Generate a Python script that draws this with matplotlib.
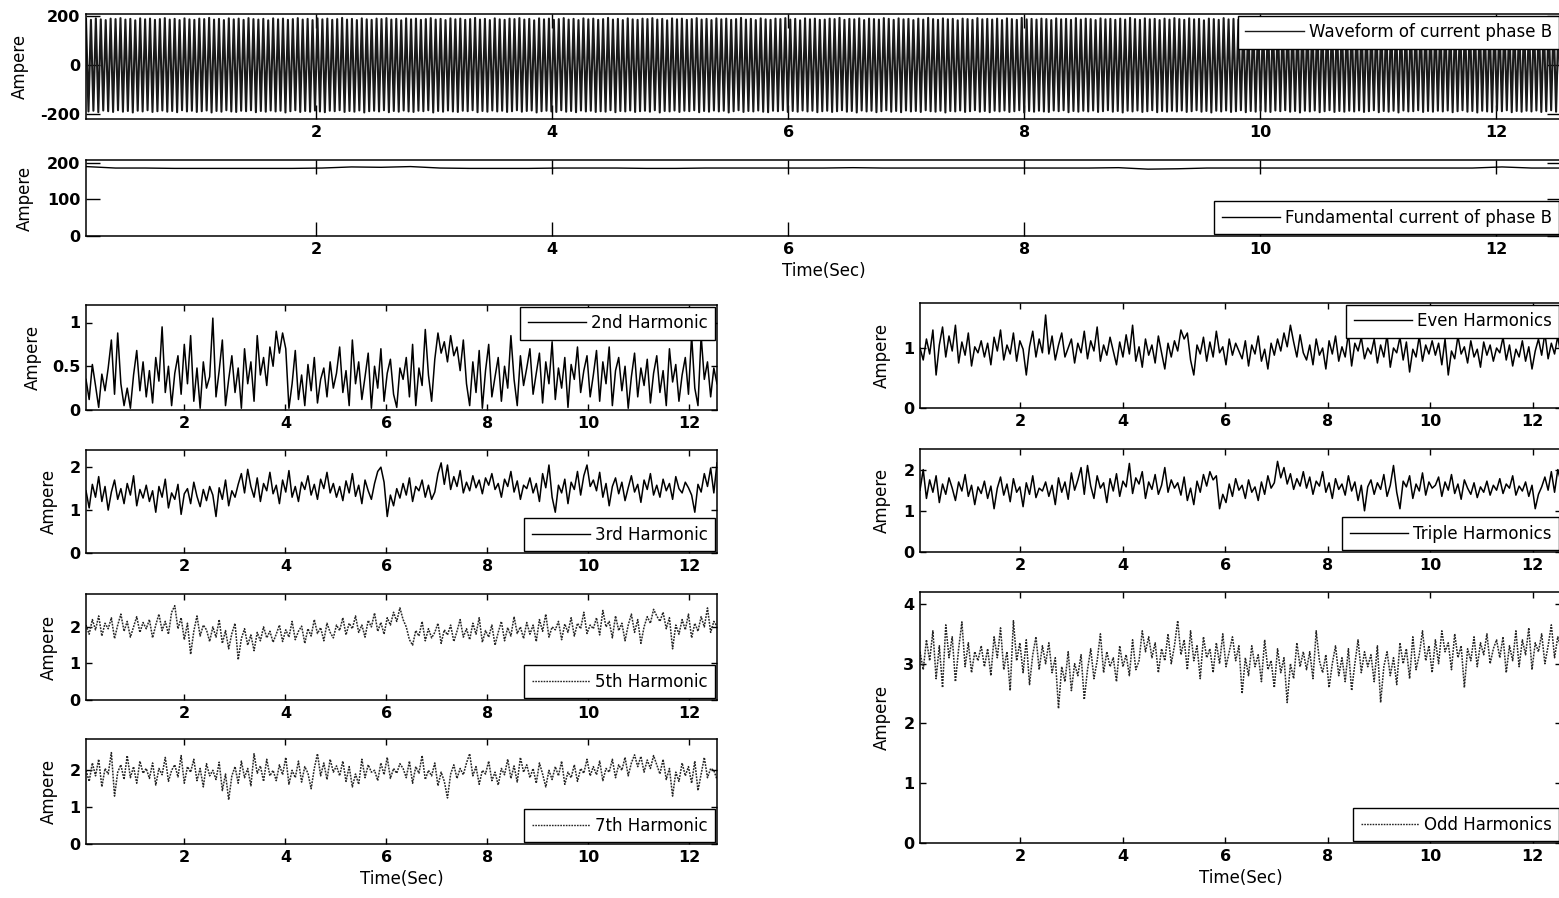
import numpy as np
import matplotlib
matplotlib.use("Agg")
import matplotlib.pyplot as plt
import matplotlib.transforms as mtransforms

plt.rcParams['font.family'] = ['DejaVu Sans']
plt.rcParams['axes.unicode_minus'] = False

# Data (Time in sec)
t_start, t_end = 0.05, 12.55
x_ticks = [2, 4, 6, 8, 10, 12]

# phase B current waveform: positive and negative peak per cycle (A)
wave_pos = [
    190, 186, 192, 188, 185, 191, 189, 193, 187, 190, 184, 192, 188, 191, 186,
    189, 193, 187, 190, 185, 192, 188, 186, 191, 189, 194, 187, 190, 185, 192,
    188, 191, 186, 193, 189, 187, 190, 184, 192, 188, 191, 186, 189, 193, 187,
    190, 185, 192, 188, 191, 186, 189, 194, 187, 190, 185, 192, 188, 186, 191,
    189, 193, 187, 190, 184, 192, 188, 191, 186, 189, 193, 187, 190, 185, 192,
    188, 191, 186, 189, 194, 187, 190, 185, 192, 188, 186, 191, 189, 193, 187,
    190, 184, 192, 188, 191, 186, 189, 193, 187, 190, 185, 192, 188, 191, 186,
    189, 194, 187, 190, 185, 192, 188, 186, 191, 189, 193, 187, 190, 184, 192,
    188, 191, 186, 189, 193, 187, 190, 185, 192, 188, 191, 186, 189, 194, 187,
    190, 185, 192, 188, 186, 191, 189, 193, 187, 190, 184, 192, 188, 191, 186,
    187, 191, 189, 194, 186, 190, 188, 192, 185, 191, 189, 187, 193, 190, 186,
    192, 188, 190, 185, 191, 187, 194, 189, 186, 192, 188, 190, 184, 191, 189,
    186, 193, 188, 190, 187, 191, 185, 192, 189, 186, 194, 188, 190, 187, 191,
    189, 185, 192, 188, 190, 186, 193, 187, 191, 189, 185, 192, 188, 190, 186,
    191, 187, 194, 189, 186, 192, 188, 190, 185, 191, 187, 193, 189, 186, 192,
    188, 190, 184, 191, 189, 186, 193, 188, 190, 187, 191, 185, 192, 189, 186,
    194, 188, 190, 187, 191, 189, 185, 192, 188, 190, 186, 193, 187, 191, 189,
    185, 192, 188, 190, 186, 191, 187, 194, 189, 186, 192, 188, 190, 185, 191,
    187, 193, 189, 186, 192, 188, 190, 184, 191, 189, 186, 193, 188, 190, 187,
    191, 185, 192, 189, 186, 194, 188, 190, 187, 191, 189, 185, 192, 188, 190,
]
wave_neg = [
    -191, -188, -194, -187, -190, -193, -186, -192, -189, -195, -188, -191, -186, -193, -190,
    -187, -192, -189, -194, -186, -191, -188, -193, -190, -187, -195, -189, -192, -186, -191,
    -193, -188, -190, -186, -194, -189, -192, -187, -191, -188, -195, -190, -186, -193, -189,
    -192, -187, -191, -194, -188, -190, -186, -193, -189, -192, -187, -195, -190, -188, -191,
    -186, -194, -189, -192, -187, -191, -193, -188, -190, -186, -195, -189, -192, -187, -191,
    -193, -188, -190, -186, -194, -189, -192, -187, -191, -188, -193, -190, -186, -192, -189,
    -187, -195, -190, -188, -191, -193, -186, -192, -189, -194, -187, -191, -188, -193, -190,
    -192, -186, -194, -189, -191, -187, -193, -190, -188, -192, -186, -195, -189, -191, -187,
    -193, -188, -190, -186, -194, -189, -192, -187, -191, -188, -195, -190, -186, -193, -189,
    -191, -187, -192, -194, -188, -190, -186, -193, -189, -192, -187, -191, -188, -194, -190,
    -188, -193, -190, -186, -192, -189, -195, -187, -191, -188, -194, -190, -186, -192, -189,
    -194, -187, -191, -189, -193, -186, -190, -192, -188, -195, -189, -191, -187, -193, -190,
    -186, -192, -189, -194, -188, -191, -187, -193, -190, -186, -195, -189, -192, -188, -191,
    -193, -187, -190, -186, -194, -189, -192, -188, -191, -187, -193, -190, -186, -192, -189,
    -195, -188, -191, -187, -193, -190, -186, -194, -189, -192, -188, -191, -187, -193, -190,
    -186, -192, -189, -195, -188, -191, -187, -193, -190, -186, -194, -189, -192, -188, -191,
    -193, -187, -190, -186, -192, -189, -195, -188, -191, -187, -194, -190, -186, -193, -189,
    -192, -188, -191, -187, -193, -190, -186, -194, -189, -192, -188, -195, -187, -191, -190,
    -186, -193, -189, -192, -188, -191, -187, -194, -190, -186, -192, -189, -195, -188, -191,
    -193, -187, -190, -186, -194, -189, -192, -188, -191, -187, -193, -190, -186, -192, -189,
]

# fundamental current of phase B (A), every 0.25 s
fund_amp = [
    190, 186, 186, 185, 185, 185, 185, 185, 186, 189,
    188, 190, 186, 185, 185, 185, 186, 186, 186, 185,
    185, 186, 186, 186, 186, 186, 187, 186, 186, 186,
    186, 186, 186, 186, 186, 187, 183, 184, 186, 186,
    186, 186, 186, 186, 186, 186, 186, 186, 189, 186, 186,
]

h2 = [
    0.35, 0.12, 0.52, 0.28, 0.03, 0.41, 0.22, 0.48, 0.80, 0.18, 0.88, 0.30, 0.05, 0.25, 0.02, 0.40, 0.68, 0.22, 0.55, 0.15,
    0.45, 0.08, 0.60, 0.33, 0.95, 0.20, 0.50, 0.05, 0.42, 0.62, 0.18, 0.75, 0.30, 0.85, 0.10, 0.48, 0.02, 0.55, 0.25, 0.38,
    1.05, 0.15, 0.45, 0.80, 0.05, 0.35, 0.62, 0.20, 0.48, 0.02, 0.70, 0.30, 0.55, 0.10, 0.85, 0.40, 0.60, 0.28, 0.72, 0.50,
    0.90, 0.65, 0.88, 0.70, 0.02, 0.30, 0.68, 0.12, 0.40, 0.05, 0.52, 0.22, 0.60, 0.08, 0.35, 0.48, 0.15, 0.55, 0.25, 0.42,
    0.72, 0.20, 0.45, 0.05, 0.80, 0.30, 0.55, 0.12, 0.38, 0.65, 0.02, 0.50, 0.25, 0.70, 0.10, 0.42, 0.58, 0.18, 0.03, 0.48,
    0.35, 0.60, 0.15, 0.75, 0.05, 0.48, 0.28, 0.92, 0.40, 0.10, 0.58, 0.88, 0.65, 0.78, 0.55, 0.85, 0.62, 0.72, 0.45, 0.80,
    0.30, 0.05, 0.55, 0.20, 0.68, 0.02, 0.45, 0.75, 0.15, 0.38, 0.60, 0.10, 0.50, 0.25, 0.85, 0.35, 0.05, 0.62, 0.28, 0.48,
    0.70, 0.18, 0.42, 0.65, 0.08, 0.55, 0.30, 0.78, 0.12, 0.48, 0.25, 0.60, 0.03, 0.52, 0.35, 0.72, 0.20, 0.45, 0.62, 0.15,
    0.40, 0.68, 0.10, 0.55, 0.30, 0.72, 0.05, 0.45, 0.60, 0.22, 0.50, 0.02, 0.38, 0.65, 0.15, 0.48, 0.28, 0.58, 0.08, 0.42,
    0.62, 0.20, 0.45, 0.05, 0.70, 0.32, 0.52, 0.10, 0.40, 0.60, 0.18, 0.85, 0.25, 0.05, 0.85, 0.35, 0.55, 0.15, 0.48, 0.30,
]
h3 = [
    1.45, 1.05, 1.60, 1.30, 1.78, 1.20, 1.55, 1.00, 1.42, 1.70, 1.25, 1.50, 1.15, 1.62, 1.35, 1.80, 1.10, 1.48, 1.28, 1.58,
    1.20, 1.45, 0.95, 1.55, 1.30, 1.72, 1.05, 1.40, 1.25, 1.60, 0.90, 1.38, 1.50, 1.15, 1.65, 1.32, 1.08, 1.48, 1.22, 1.55,
    1.35, 0.85, 1.52, 1.25, 1.70, 1.10, 1.45, 1.30, 1.60, 1.85, 1.40, 1.95, 1.55, 1.30, 1.75, 1.20, 1.62, 1.45, 1.88, 1.38,
    1.58, 1.15, 1.70, 1.42, 1.92, 1.30, 1.55, 1.20, 1.65, 1.48, 1.80, 1.35, 1.60, 1.25, 1.72, 1.50, 1.88, 1.40, 1.62, 1.30,
    1.55, 1.22, 1.68, 1.40, 1.85, 1.32, 1.58, 1.15, 1.70, 1.45, 1.25, 1.62, 1.90, 2.00, 1.65, 0.85, 1.35, 1.10, 1.50, 1.28,
    1.62, 1.35, 1.75, 1.20, 1.55, 1.45, 1.70, 1.30, 1.58, 1.25, 1.42, 1.85, 2.10, 1.60, 2.05, 1.48, 1.78, 1.55, 1.92, 1.40,
    1.65, 1.45, 1.80, 1.52, 1.70, 1.38, 1.75, 1.58, 1.85, 1.48, 1.62, 1.30, 1.72, 1.55, 1.90, 1.42, 1.68, 1.25, 1.58, 1.50,
    1.75, 1.40, 1.62, 1.20, 1.85, 1.52, 2.05, 1.30, 0.95, 1.58, 1.40, 1.72, 1.15, 1.65, 1.48, 1.90, 1.35, 1.80, 2.05, 1.55,
    1.70, 1.45, 1.88, 1.30, 1.62, 1.10, 1.55, 1.75, 1.38, 1.65, 1.22, 1.52, 1.80, 1.42, 1.60, 1.18, 1.70, 1.48, 1.85, 1.35,
    1.58, 1.30, 1.72, 1.45, 1.62, 1.25, 1.78, 1.50, 1.40, 1.65, 1.52, 1.35, 0.95, 1.60, 1.42, 1.85, 1.55, 1.98, 1.40, 2.10,
]
h5 = [
    2.05, 1.80, 2.20, 1.92, 2.30, 1.75, 2.10, 1.95, 2.25, 1.68, 2.05, 2.35, 1.88, 2.15, 1.72, 2.00, 2.28, 1.85, 2.12, 1.95,
    2.20, 1.70, 2.05, 2.35, 1.90, 2.15, 1.80, 2.40, 2.58, 1.95, 2.25, 1.65, 2.10, 1.25, 1.88, 2.30, 1.75, 2.05, 1.92, 1.60,
    2.00, 1.72, 2.20, 1.55, 1.90, 1.40, 1.82, 2.10, 1.10, 1.68, 1.95, 1.50, 1.78, 1.35, 1.85, 1.62, 2.00, 1.70, 1.88, 1.58,
    1.80, 2.05, 1.60, 1.92, 1.72, 2.15, 1.65, 1.88, 2.02, 1.55, 1.95, 1.75, 2.20, 1.82, 1.98, 1.62, 2.10, 1.85, 1.70, 2.05,
    1.90, 2.25, 1.78, 2.10, 1.95, 2.30, 1.85, 2.05, 1.72, 2.18, 2.00, 2.38, 1.88, 2.12, 1.80, 2.25, 2.05, 2.40, 2.15, 2.52,
    2.20, 2.00, 1.65, 1.50, 1.90, 1.75, 2.15, 1.62, 1.95, 1.70, 1.85, 2.10, 1.55, 1.92, 1.78, 2.05, 1.60, 1.88, 2.20, 1.72,
    1.95, 1.65, 2.10, 1.80, 2.25, 1.58, 1.90, 1.72, 2.05, 1.50, 1.85, 2.15, 1.62, 1.98, 1.75, 2.28, 1.82, 2.00, 1.68, 2.12,
    1.80, 2.05, 1.60, 2.20, 1.88, 2.35, 1.72, 2.00, 1.92, 2.15, 1.65, 2.08, 1.85, 2.25, 1.75, 2.10, 1.95, 2.40, 1.82, 2.05,
    1.95, 2.25, 1.78, 2.45, 2.00, 2.15, 1.70, 2.30, 1.90, 2.10, 1.62, 2.05, 2.35, 1.85, 2.20, 1.55, 2.00, 2.28, 2.10, 2.48,
    2.30, 2.15, 2.40, 1.95, 2.25, 1.40, 2.05, 1.80, 2.20, 1.92, 2.35, 1.70, 2.10, 1.88, 2.28, 2.00, 2.52, 1.85, 2.15, 2.02,
]
h7 = [
    2.00, 1.70, 2.20, 1.85, 2.30, 1.55, 2.05, 1.90, 2.48, 1.30, 1.95, 2.15, 1.75, 2.40, 1.80, 2.10, 1.65, 2.25, 1.92, 2.05,
    1.78, 2.20, 1.60, 2.05, 1.88, 2.35, 1.70, 2.00, 2.15, 1.82, 2.40, 1.65, 2.10, 1.95, 2.30, 1.72, 2.05, 1.55, 2.18, 1.85,
    2.00, 1.75, 2.22, 1.45, 1.90, 1.20, 1.85, 2.10, 1.65, 2.25, 1.80, 2.05, 1.58, 2.45, 1.92, 2.12, 1.70, 2.30, 1.85, 2.00,
    1.72, 2.15, 1.88, 2.35, 1.62, 2.00, 1.80, 2.25, 1.68, 2.10, 1.92, 1.50, 2.05, 2.45, 1.85, 2.20, 1.75, 2.30, 1.95, 2.12,
    1.85, 2.25, 1.70, 2.10, 1.55, 1.90, 1.62, 2.30, 1.80, 2.15, 1.95, 2.00, 1.72, 2.20, 1.88, 2.35, 1.78, 2.05, 1.92, 2.18,
    2.05, 1.80, 2.25, 1.65, 2.10, 1.92, 2.40, 1.75, 2.00, 1.85, 2.20, 1.58, 1.95, 1.70, 1.25, 1.90, 2.15, 1.78, 2.05, 1.88,
    2.20, 2.45, 1.85, 2.10, 1.62, 2.00, 1.90, 2.25, 1.72, 1.95, 1.60, 2.05, 1.88, 2.30, 1.78, 2.12, 1.68, 2.35, 1.95, 2.15,
    1.80, 2.05, 1.65, 2.20, 1.90, 1.55, 2.00, 1.75, 2.10, 1.85, 2.25, 1.62, 1.95, 1.80, 2.15, 1.70, 2.05, 1.92, 2.30, 1.85,
    2.10, 1.88, 2.25, 1.72, 2.05, 1.95, 2.30, 1.80, 2.15, 2.00, 2.35, 1.85, 2.20, 2.42, 2.10, 2.38, 1.95, 2.28, 2.05, 2.40,
    2.15, 1.90, 2.30, 1.75, 2.05, 1.30, 1.95, 1.70, 2.20, 1.85, 2.10, 1.65, 2.25, 1.45, 1.90, 2.35, 1.80, 2.05, 2.00, 1.75,
]
h_even = [
    1.00, 0.80, 1.15, 0.90, 1.30, 0.55, 1.05, 1.35, 0.85, 1.20, 0.95, 1.38, 0.75, 1.10, 0.88, 1.25, 0.70, 1.02, 0.92, 1.12,
    0.85, 1.08, 0.72, 1.18, 0.95, 1.30, 0.80, 1.05, 0.90, 1.25, 0.78, 1.12, 0.98, 0.55, 1.02, 1.28, 0.85, 1.15, 0.92, 1.55,
    0.90, 1.20, 0.80, 1.05, 1.25, 0.85, 1.00, 1.15, 0.75, 1.08, 0.92, 1.28, 0.82, 1.12, 0.95, 1.35, 0.78, 1.05, 0.88, 1.18,
    0.95, 0.72, 1.10, 0.85, 1.22, 0.90, 1.38, 0.78, 1.02, 0.68, 1.15, 0.88, 1.05, 0.75, 1.20, 0.92, 0.65, 1.08, 0.85, 1.12,
    0.95, 1.30, 1.15, 1.25, 0.80, 0.55, 1.05, 0.90, 1.18, 0.78, 1.10, 0.85, 1.28, 0.92, 1.02, 0.72, 1.15, 0.88, 1.08, 0.95,
    0.82, 1.12, 0.70, 1.05, 0.90, 1.20, 0.78, 0.98, 0.65, 1.08, 0.88, 1.15, 0.95, 1.25, 1.02, 1.38, 1.10, 0.85, 1.22, 0.92,
    0.80, 1.05, 0.72, 1.15, 0.88, 1.00, 0.65, 1.12, 0.90, 1.20, 0.78, 1.02, 0.85, 1.25, 0.70, 1.08, 0.95, 1.18, 0.82, 1.00,
    0.90, 1.15, 0.75, 1.05, 0.85, 1.22, 0.68, 1.00, 0.92, 1.18, 0.80, 1.10, 0.60, 0.98, 0.85, 1.20, 0.78, 1.05, 0.90, 1.12,
    0.88, 1.08, 0.72, 1.15, 0.55, 0.95, 0.82, 1.20, 0.90, 1.02, 0.75, 1.12, 0.85, 0.98, 0.68, 1.10, 0.88, 1.05, 0.78, 1.00,
    0.92, 1.18, 0.80, 1.05, 0.70, 0.98, 0.85, 1.12, 0.78, 1.02, 0.65, 0.95, 1.15, 0.88, 1.25, 0.82, 1.08, 0.90, 1.20, 0.85,
]
h_triple = [
    1.50, 2.00, 1.30, 1.75, 1.45, 1.85, 1.20, 1.65, 1.40, 1.80, 1.55, 1.25, 1.70, 1.48, 1.88, 1.35, 1.62, 1.15, 1.58, 1.42,
    1.72, 1.30, 1.60, 1.05, 1.55, 1.82, 1.38, 1.65, 1.22, 1.78, 1.45, 1.58, 1.10, 1.68, 1.40, 1.85, 1.32, 1.55, 1.48, 1.70,
    1.35, 1.62, 1.15, 1.80, 1.45, 1.70, 1.28, 1.92, 1.50, 1.75, 2.05, 1.40, 2.10, 1.60, 1.30, 1.85, 1.55, 1.68, 1.20, 1.78,
    1.48, 1.90, 1.35, 1.72, 1.58, 2.15, 1.42, 1.80, 1.65, 1.95, 1.30, 1.70, 1.52, 1.88, 1.40, 1.62, 2.05, 1.45, 1.75, 1.55,
    1.68, 1.38, 1.82, 1.25, 1.55, 1.15, 1.72, 1.45, 1.88, 1.60, 1.95, 1.75, 1.85, 1.05, 1.40, 1.20, 1.65, 1.35, 1.78, 1.50,
    1.62, 1.30, 1.75, 1.45, 1.58, 1.25, 1.70, 1.40, 1.85, 1.55, 1.68, 2.20, 1.80, 2.05, 1.65, 1.90, 1.52, 1.78, 1.60, 1.95,
    1.55, 1.82, 1.40, 1.72, 1.60, 1.95, 1.45, 1.68, 1.30, 1.78, 1.52, 1.65, 1.38, 1.85, 1.48, 1.70, 1.25, 1.62, 1.00, 1.58,
    1.75, 1.40, 1.68, 1.52, 1.88, 1.35, 1.62, 2.10, 1.45, 1.05, 1.72, 1.58, 1.85, 1.30, 1.65, 1.48, 1.92, 1.38, 1.70, 1.55,
    1.62, 1.82, 1.35, 1.70, 1.50, 1.88, 1.42, 1.65, 1.28, 1.75, 1.55, 1.40, 1.68, 1.32, 1.58, 1.45, 1.72, 1.38, 1.62, 1.50,
    1.78, 1.42, 1.65, 1.55, 1.85, 1.38, 1.60, 1.48, 1.70, 1.35, 1.62, 1.05, 1.40, 1.58, 1.82, 1.50, 1.95, 1.45, 2.00, 1.70,
]
h_odd = [
    3.20, 2.90, 3.40, 3.05, 3.55, 2.75, 3.30, 2.60, 3.65, 3.10, 3.45, 2.70, 3.25, 3.70, 2.95, 3.35, 2.85, 3.20, 3.05, 3.30,
    2.95, 3.25, 2.80, 3.45, 3.10, 3.60, 2.90, 3.20, 2.55, 3.72, 3.05, 3.35, 2.85, 3.40, 2.65, 3.15, 3.45, 2.90, 3.30, 3.00,
    3.35, 2.85, 3.10, 2.25, 2.95, 2.70, 3.20, 2.55, 3.00, 2.80, 3.15, 2.40, 2.90, 3.25, 2.75, 3.05, 3.50, 2.85, 3.20, 2.95,
    3.10, 2.70, 3.30, 2.95, 3.15, 2.80, 3.40, 2.90, 3.05, 3.55, 3.20, 3.45, 3.10, 3.35, 2.85, 3.25, 3.05, 3.50, 3.00, 3.30,
    3.72, 3.15, 3.40, 2.90, 3.55, 3.05, 3.30, 2.75, 3.45, 3.10, 3.25, 2.85, 3.35, 3.00, 3.50, 2.95, 3.20, 3.45, 3.05, 3.30,
    2.50, 3.10, 2.80, 3.30, 2.95, 3.15, 2.70, 3.40, 2.90, 3.05, 2.60, 3.25, 2.85, 3.10, 2.35, 3.00, 2.75, 3.35, 2.95, 3.20,
    2.90, 3.20, 2.75, 3.55, 3.05, 2.85, 3.15, 2.60, 3.00, 3.30, 2.80, 3.10, 2.70, 3.25, 2.55, 3.00, 3.40, 2.85, 3.20, 2.95,
    3.15, 2.70, 3.30, 2.35, 2.95, 3.20, 2.80, 3.10, 2.65, 3.35, 3.00, 3.25, 2.75, 3.45, 2.90, 3.15, 3.55, 3.05, 3.30, 2.85,
    3.40, 3.00, 3.55, 3.20, 3.35, 2.90, 3.50, 3.10, 3.30, 2.60, 3.25, 3.05, 3.45, 2.95, 3.35, 3.15, 3.50, 3.00, 3.25, 3.40,
    3.10, 3.45, 2.85, 3.30, 3.05, 3.55, 2.95, 3.40, 3.15, 3.60, 2.90, 3.35, 3.20, 3.50, 3.00, 3.30, 3.65, 3.10, 3.45, 3.25,
]

W, H = 1559, 898
fig = plt.figure(figsize=(W / 100, H / 100), dpi=100)


def add_axes(x0, x1, y_top, y_bot):
    # pixel box -> figure fraction
    return fig.add_axes([x0 / W, 1 - y_bot / H, (x1 - x0) / W, (y_bot - y_top) / H])


def style(ax, ylim, yticks, yticklabels, ticklen, label_px):
    ax.set_xlim(t_start, t_end)
    ax.set_ylim(*ylim)
    ax.set_xticks(x_ticks)
    ax.set_xticklabels([str(v) for v in x_ticks], fontweight='bold')
    ax.set_yticks(yticks)
    ax.set_yticklabels(yticklabels, fontweight='bold')
    ax.tick_params(direction='in', top=True, right=True, length=ticklen,
                   width=1, labelsize=11.5, pad=4, colors='black')
    for sp in ax.spines.values():
        sp.set_linewidth(1.1)
    ax.set_ylabel("Ampere", fontsize=12)
    trans = mtransforms.blended_transform_factory(fig.transFigure, ax.transAxes)
    ax.yaxis.set_label_coords(label_px / W, 0.5, transform=trans)


def legend(ax, loc):
    leg = ax.legend(loc=loc, fontsize=12, fancybox=False, edgecolor='black',
                    framealpha=1, borderaxespad=0.1, handlelength=3.5,
                    handletextpad=0.3, borderpad=0.45)
    leg.get_frame().set_linewidth(1.0)
    for ln in leg.get_lines():
        ln.set_linewidth(1.0)


solid = dict(color='black', lw=1.1)
dotted = dict(color='0.15', lw=1.1, linestyle=(0, (1.2, 0.8)))

# top: waveform
ax = add_axes(86, 1561, 14, 119)
t_wave = np.linspace(t_start, t_end, 2 * len(wave_pos))
wave = np.column_stack([wave_pos, wave_neg]).ravel()
ax.plot(t_wave, wave, color='#1a1a1a', lw=1.5, label="Waveform of current phase B")
style(ax, (-222, 210), [-200, 0, 200], ['-200', '0', '200'], 10, 29)
legend(ax, 'upper right')

# fundamental
ax = add_axes(86, 1561, 160, 236)
t_fund = np.linspace(t_start, t_end, len(fund_amp))
ax.plot(t_fund, fund_amp, color='black', lw=1.0, label="Fundamental current of phase B")
style(ax, (0, 208), [0, 100, 200], ['0', '100', '200'], 10, 34)
ax.set_xlabel("Time(Sec)", fontsize=12, labelpad=4)
legend(ax, 'lower right')

t_h = np.linspace(t_start, t_end, len(h2))

left_panels = [
    (h2, "2nd Harmonic", (305, 410), (0, 1.2), [0, 0.5, 1], ['0', '0.5', '1'], 'upper right', solid, 42),
    (h3, "3rd Harmonic", (450, 553), (0, 2.4), [0, 1, 2], ['0', '1', '2'], 'lower right', solid, 58),
    (h5, "5th Harmonic", (594, 700), (0, 2.9), [0, 1, 2], ['0', '1', '2'], 'lower right', dotted, 58),
    (h7, "7th Harmonic", (739, 844), (0, 2.85), [0, 1, 2], ['0', '1', '2'], 'lower right', dotted, 58),
]
for vals, name, (yt, yb), ylim, yt_vals, yt_lbls, loc, ls, lpx in left_panels:
    ax = add_axes(86, 717, yt, yb)
    ax.plot(t_h, vals, label=name, **ls)
    style(ax, ylim, yt_vals, yt_lbls, 4.5, lpx)
    legend(ax, loc)
ax.set_xlabel("Time(Sec)", fontsize=12, labelpad=4)

right_panels = [
    (h_even, "Even Harmonics", (303, 408), (0, 1.75), [0, 1], ['0', '1'], 'upper right', solid),
    (h_triple, "Triple Harmonics", (449, 552), (0, 2.5), [0, 1, 2], ['0', '1', '2'], 'lower right', solid),
    (h_odd, "Odd Harmonics", (592, 843), (0, 4.2), [0, 1, 2, 3, 4], ['0', '1', '2', '3', '4'], 'lower right', dotted),
]
for vals, name, (yt, yb), ylim, yt_vals, yt_lbls, loc, ls in right_panels:
    ax = add_axes(920, 1561, yt, yb)
    ax.plot(t_h, vals, label=name, **ls)
    style(ax, ylim, yt_vals, yt_lbls, 4.5, 891)
    legend(ax, loc)
ax.set_xlabel("Time(Sec)", fontsize=12, labelpad=4)

fig.savefig("out.png", dpi=100)
